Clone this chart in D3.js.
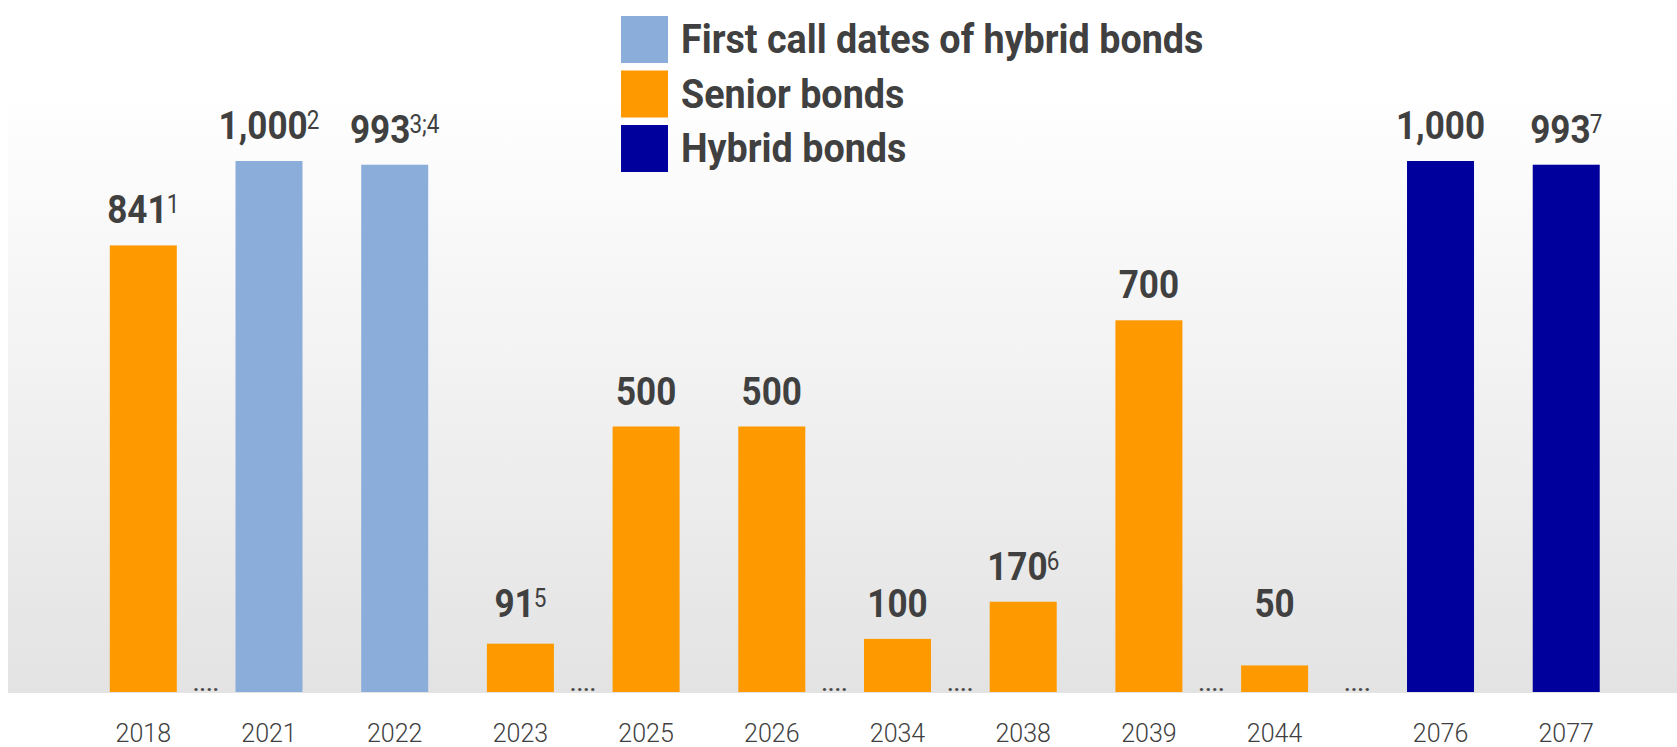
<!DOCTYPE html>
<html>
<head>
<meta charset="utf-8">
<script src="https://cdn.jsdelivr.net/npm/d3@7"></script>
<style>
  html, body { margin: 0; padding: 0; background: #ffffff; }
  svg { display: block; }
</style>
</head>
<body>
<svg id="chart" width="1677" height="747"></svg>
<script>
// ---- data ----
const years   = ["2018","2021","2022","2023","2025","2026","2034","2038","2039","2044","2076","2077"];
const values  = [841, 1000, 993, 91, 500, 500, 100, 170, 700, 50, 1000, 993];
const notes   = ["1", "2", "3;4", "5", "", "", "", "6", "", "", "", "7"];
const types   = ["senior","call","call","senior","senior","senior","senior","senior","senior","senior","hybrid","hybrid"];
const gapsAfter = ["2018","2023","2026","2034","2039","2044"];
const legendKeys   = ["call","senior","hybrid"];
const legendLabels = ["First call dates of hybrid bonds","Senior bonds","Hybrid bonds"];

const colors = { call: "#8badda", senior: "#ff9900", hybrid: "#00009c" };
const textColor = "#404040";

const data = years.map((y, i) => ({ year: y, value: values[i], note: notes[i], type: types[i] }));

// ---- layout ----
const W = 1677, H = 747;
const baseY = 692, topY = 161;
const stepW = 125.7;
const x0 = 80.45;
const wideGapStart = "2076";
const wideGapExtra = stepW * 0.32;

const svg = d3.select("#chart");

const x = d3.scaleBand()
  .domain(years)
  .range([x0, x0 + stepW * years.length])
  .paddingInner(0.467)
  .paddingOuter(0.2335);

const wideIdx = years.indexOf(wideGapStart);
const bx = yr => x(yr) + (years.indexOf(yr) >= wideIdx ? wideGapExtra : 0);
const cx = yr => bx(yr) + x.bandwidth() / 2;

const y = d3.scaleLinear().domain([0, 1000]).range([baseY, topY]);

// background gradient
const defs = svg.append("defs");
const grad = defs.append("linearGradient")
  .attr("id", "bg").attr("gradientUnits", "userSpaceOnUse")
  .attr("x1", 0).attr("y1", 90).attr("x2", 0).attr("y2", baseY + 1);
grad.append("stop").attr("offset", 0).attr("stop-color", "#ffffff");
grad.append("stop").attr("offset", 1).attr("stop-color", "#e3e3e3");

svg.append("rect")
  .attr("x", 8).attr("y", 0)
  .attr("width", W - 8).attr("height", baseY + 1)
  .attr("fill", "url(#bg)");

// bars
svg.append("g").selectAll("rect")
  .data(data)
  .join("rect")
  .attr("x", d => bx(d.year))
  .attr("y", d => y(d.value))
  .attr("width", x.bandwidth())
  .attr("height", d => y(0) - y(d.value))
  .attr("fill", d => colors[d.type]);

// value labels
const fmt = d3.format(",");
const labelFloor = 100;
const lbl = svg.append("g").selectAll("g")
  .data(data)
  .join("g")
  .attr("transform", d => `translate(${cx(d.year)},${Math.min(y(d.value), y(labelFloor)) - 22}) scale(0.9,1)`);

const lt = lbl.append("text")
  .attr("text-anchor", "middle")
  .attr("font-family", "Roboto, 'DejaVu Sans', sans-serif")
  .attr("fill", textColor);
lt.append("tspan")
  .attr("font-size", 39)
  .attr("font-weight", 700)
  .text(d => fmt(d.value));
lt.filter(d => d.note !== "").append("tspan")
  .attr("font-size", 25)
  .attr("font-weight", 400)
  .attr("dy", -10)
  .attr("dx", -1)
  .text(d => d.note);

// gap dots
svg.append("g").selectAll("text")
  .data(gapsAfter)
  .join("text")
  .attr("x", d => {
    const i = years.indexOf(d);
    return (cx(years[i]) + cx(years[i + 1])) / 2;
  })
  .attr("y", baseY - 1)
  .attr("text-anchor", "middle")
  .attr("font-family", "Roboto, sans-serif")
  .attr("font-weight", 700)
  .attr("font-size", 21)
  .attr("letter-spacing", 0.5)
  .attr("fill", "#4a4a4a")
  .text("....");

// x axis labels
const xAxis = d3.axisBottom(x).tickSize(0).tickPadding(0);
const axisG = svg.append("g")
  .attr("transform", `translate(0,${baseY})`)
  .call(xAxis);
axisG.select(".domain").remove();
axisG.selectAll(".tick")
  .attr("transform", d => `translate(${cx(d)},0)`);
axisG.selectAll(".tick text")
  .attr("y", 50)
  .attr("dy", 0)
  .attr("font-family", "Roboto, sans-serif")
  .attr("font-weight", 300)
  .attr("font-size", 25)
  .attr("fill", textColor);

// legend
const legend = svg.append("g").attr("transform", "translate(621,16)");
const rowH = 54.5;
const li = legend.selectAll("g")
  .data(legendKeys)
  .join("g")
  .attr("transform", (d, i) => `translate(0,${i * rowH})`);
li.append("rect")
  .attr("width", 47).attr("height", 47)
  .attr("fill", d => colors[d]);
li.append("text")
  .attr("transform", "translate(60,37) scale(0.92,1)")
  .attr("font-family", "Roboto, sans-serif")
  .attr("font-weight", 700)
  .attr("font-size", 41)
  .attr("fill", textColor)
  .text((d, i) => legendLabels[i]);
</script>
</body>
</html>
